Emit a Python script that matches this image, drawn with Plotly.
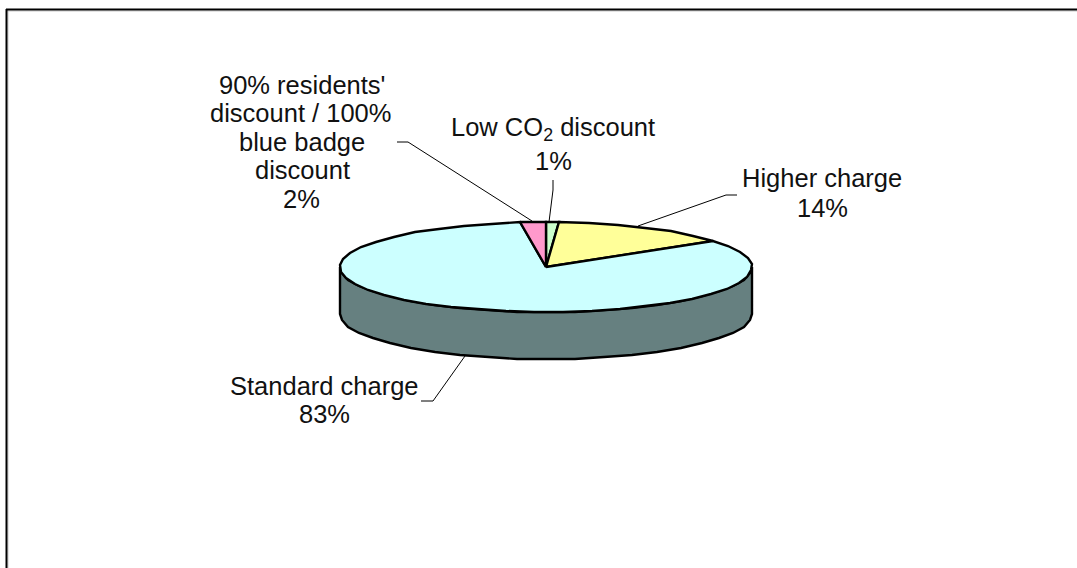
import numpy as np
import plotly.graph_objects as go

# Slice data, clockwise from twelve o'clock
categories = ["Low CO2 discount", "Higher charge", "Standard charge",
              "90% residents' discount / 100% blue badge discount"]
shares = [1, 14, 83, 2]
top_colors = ["#CCFFCC", "#FFFF99", "#CCFFFF", "#FF99CC"]
side_color = "#668080"

# Label text, one entry per line, with centre positions in page pixels
label_lines = [
    ("Low CO<sub>2</sub> discount", 553, 129), ("1%", 553, 161),
    ("Higher charge", 822, 178), ("14%", 822, 208),
    ("Standard charge", 324, 386), ("83%", 324, 414),
    ("90% residents'", 302, 85), ("discount / 100%", 300, 113),
    ("blue badge", 302, 142), ("discount", 302, 170), ("2%", 301, 199),
]

# Leader lines from each label to its slice
leaders = [
    ([553, 553, 549], [180, 190, 222]),
    ([737, 726, 638], [195, 195, 226]),
    ([421, 433, 465], [401, 401, 356]),
    ([397, 408, 532], [142, 142, 221]),
]

# Flattened disc proportions on the page
CX, CY, RX, RY, DEPTH = 546, 267, 206, 45, 47
STEP_DEG = 8


def rim(theta_start, theta_end, drop=0):
    """Points along the rim between two clockwise angles, in degrees."""
    count = max(2, int(abs(theta_end - theta_start) / STEP_DEG) + 1)
    theta = np.radians(np.linspace(theta_start, theta_end, count))
    x = np.round(CX + RX * np.sin(theta))
    y = np.round(CY - RY * np.cos(theta) + drop)
    return x.tolist(), y.tolist()


fig = go.Figure()

# Side wall: front half of the rim plus its lowered copy
upper_x, upper_y = rim(90, 270)
lower_x, lower_y = rim(270, 90, DEPTH)
fig.add_trace(go.Scatter(
    x=upper_x + lower_x + upper_x[:1], y=upper_y + lower_y + upper_y[:1],
    mode="lines", fill="toself", fillcolor=side_color,
    line=dict(color="black", width=2.4), hoverinfo="skip",
))

# Top face wedges
edges = np.cumsum([0] + shares) / sum(shares) * 360
for name, color, start, end in zip(categories, top_colors, edges[:-1], edges[1:]):
    arc_x, arc_y = rim(start, end)
    fig.add_trace(go.Scatter(
        x=[CX] + arc_x + [CX], y=[CY] + arc_y + [CY],
        mode="lines", fill="toself", fillcolor=color, name=name,
        line=dict(color="black", width=2.4),
    ))

for xs, ys in leaders:
    fig.add_trace(go.Scatter(x=xs, y=ys, mode="lines",
                             line=dict(color="black", width=1), hoverinfo="skip"))

annotations = [
    dict(x=x, y=y, text=text, showarrow=False, xanchor="center", yanchor="middle",
         font=dict(family="Liberation Sans, Arial, sans-serif", size=25.5, color="#111111"))
    for text, x, y in label_lines
]

# Chart frame: top and left rules with a faint grey edge inside
frame = [
    dict(type="line", x0=7, x1=1077, y0=11, y1=11, line=dict(color="#C8C8C8", width=1)),
    dict(type="line", x0=8, x1=8, y0=10, y1=568, line=dict(color="#C8C8C8", width=1)),
    dict(type="line", x0=6, x1=1077, y0=9.5, y1=9.5, line=dict(color="black", width=2)),
    dict(type="line", x0=6.5, x1=6.5, y0=9, y1=568, line=dict(color="black", width=2)),
]

hidden = dict(visible=False, fixedrange=True)
fig.update_layout(
    width=1077, height=568, autosize=False,
    margin=dict(l=0, r=0, t=0, b=0),
    paper_bgcolor="white", plot_bgcolor="white", showlegend=False,
    xaxis=dict(range=[0, 1077], **hidden),
    yaxis=dict(range=[568, 0], **hidden),
    annotations=annotations, shapes=frame,
)

fig.write_html("out.html", config={"displayModeBar": False})
